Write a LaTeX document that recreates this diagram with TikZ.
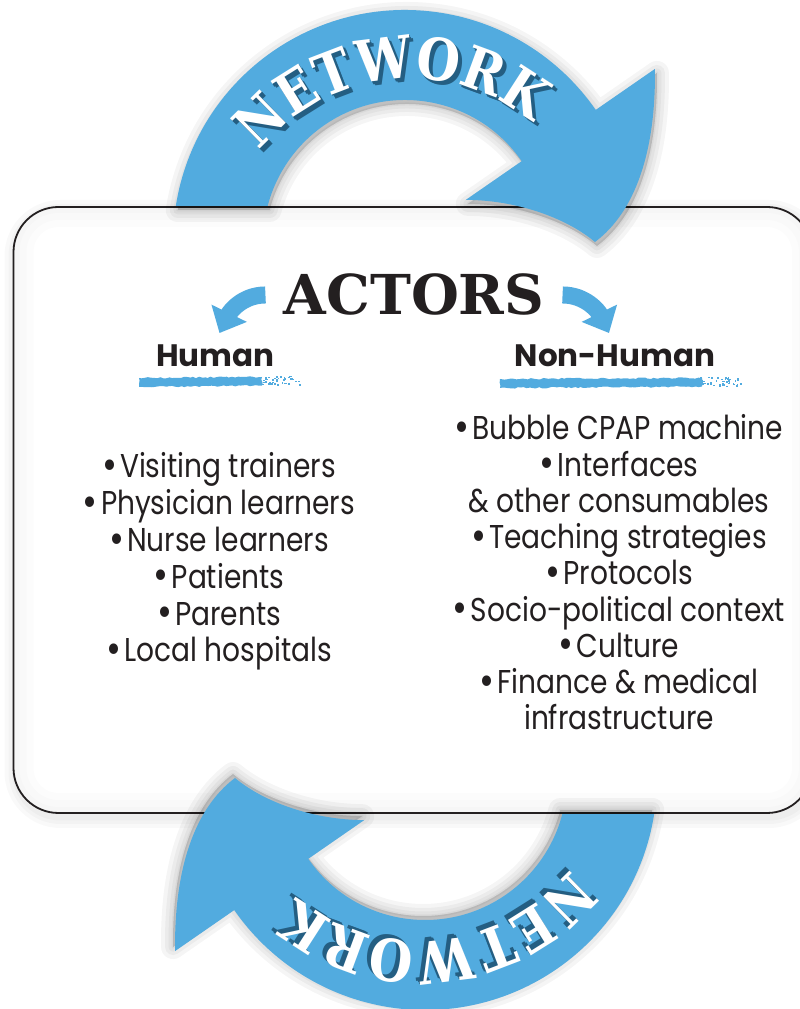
\documentclass[tikz,border=0pt]{standalone}
\usepackage{fontspec}
\usetikzlibrary{arrows.meta,decorations.text,decorations.pathmorphing}

\newfontfamily\listfont{Poppins}[FakeStretch=0.85]
\newfontfamily\headfont{Poppins}
\newfontfamily\titlefont{DejaVu Serif}
\newfontfamily\netfont{DejaVu Serif}[FakeStretch=0.86]

\definecolor{netblue}{HTML}{52ABDF}
\definecolor{netshade}{HTML}{245E82}
\definecolor{ink}{HTML}{231F20}

\newcommand\bul{\raisebox{-1.5pt}{\scalebox{1.3}{\textbullet}}\hspace{3pt}}
\newcommand\netstyle{\netfont\bfseries\fontsize{58}{60}\selectfont}

% outline of one big arrow, ring centred at the origin
\newcommand\ringpath{(171.07:232) arc[start angle=171.07, end angle=34.7, radius=232]
  -- (34.7:304) .. controls (251,90) and (230,30) .. (190,0)
  .. controls (160,25) and (110,42) .. (34.7:74)
  -- (34.7:142) arc[start angle=34.7, end angle=165.31, radius=142] -- cycle}
\newcommand\wordpath{(5,-30) ++(150:193) arc[start angle=150, end angle=42, radius=193]}

\tikzset{
  pics/netarrow/.style={code={
    % soft shadow under the arrow
    \begin{scope}[shift={(2,-4)}]
      \foreach \w in {24,16,9,3}
        \path[fill=black, fill opacity=.04, draw=black, draw opacity=.04,
              line width=\w pt, line join=round] \ringpath;
    \end{scope}
    \fill[netblue] \ringpath;
    % lettering, dark blur first
    \foreach \dx/\dy in {4/-4, 2.5/-2.5, 1/-1}
      \path[shift={(\dx,\dy)}, opacity=.3, decorate,
            decoration={text along path, text align=center,
                        text={|\netstyle\color{netshade}|NETWORK}}] \wordpath;
    \path[decorate, decoration={text along path, text align=center,
                                text={|\netstyle\color{white}|NETWORK}}] \wordpath;
  }}
}

\begin{document}
\begin{tikzpicture}[x=1pt, y=1pt,
  frame/.style={draw=ink, line width=1.8pt, rounded corners=45pt},
  title/.style={font=\titlefont\bfseries\fontsize{55}{60}\selectfont, text=ink, inner sep=0pt},
  head/.style={font=\headfont\bfseries\fontsize{31}{36}\selectfont, text=ink, inner sep=0pt},
  item/.style={font=\listfont\fontsize{33}{37}\selectfont, text=ink, inner sep=0pt, anchor=base},
  curl/.style={draw=netblue, line width=17pt, -{Triangle[length=22pt, width=38pt]}},
  brush/.style={fill=netblue, decorate, decoration={random steps, segment length=3pt, amplitude=.8pt}},
]
\useasboundingbox (0,0) rectangle (800,1009);
\clip (0,0) rectangle (800,1009);

% frame, with shadow outside and a faint glow inside
\foreach \w in {22,14,7}
  \draw[frame, draw=black, opacity=.022, line width=\w pt, shift={(2,-4)}] (13.5,196) rectangle (812,802);
\fill[white, rounded corners=45pt] (13.5,196) rectangle (812,802);
\begin{scope}
  \clip[rounded corners=45pt] (13.5,196) rectangle (812,802);
  \foreach \w in {40,26,12}
    \draw[frame, draw=black, opacity=.012, line width=\w pt] (13.5,196) rectangle (812,802);
\end{scope}
\draw[frame] (13.5,196) rectangle (812,802);

% the two NETWORK arrows
\pic at (405,767) {netarrow};
\pic[rotate=180] at (425,231) {netarrow};

% headings
\node[title, anchor=base] (actors) at (414,694) {ACTORS};
\node[head, anchor=base] (human) at (215.5,642) {Human};
\node[head, anchor=base] (nonhuman) at (615,642) {Non-Human};

\coordinate (ltail) at ([xshift=-18pt]actors.west);
\coordinate (rtail) at ([xshift=18pt]actors.east);
\coordinate (ltip) at ([xshift=4pt, yshift=12pt]human.north);
\coordinate (rtip) at ([xshift=-6pt, yshift=12pt]nonhuman.north);
\draw[curl] (ltail) to[out=180, in=64] (ltip);
\draw[curl] (rtail) to[out=0, in=116] (rtip);

% brush strokes under the headings
\pgfmathsetseed{11}
\fill[brush] (139,622) -- (262,623.5) -- (262,632) -- (139,631) -- cycle;
\foreach \k in {1,...,45}{
  \pgfmathsetmacro\sx{258+42*rnd^1.5}
  \pgfmathsetmacro\sy{623+9*rnd}
  \fill[netblue] (\sx,\sy) rectangle ++(1.8,1.4);
}
\fill[brush] (500,621) -- (702,622.5) -- (702,631) -- (500,630) -- cycle;
\foreach \k in {1,...,55}{
  \pgfmathsetmacro\sx{698+44*rnd^1.5}
  \pgfmathsetmacro\sy{622+9*rnd}
  \fill[netblue] (\sx,\sy) rectangle ++(1.8,1.4);
}

% the two lists
\foreach \t [count=\i] in {Visiting trainers, Physician learners, Nurse learners,
    Patients, Parents, Local hospitals}
  \node[item] (h\i) at (219,{531-36.8*(\i-1)}) {\bul\t};
\foreach \t [count=\i] in {\bul Bubble CPAP machine, \bul Interfaces, \& other consumables,
    \bul Teaching strategies, \bul Protocols, \bul Socio-political context, \bul Culture,
    \bul Finance \& medical, infrastructure}
  \node[item] (n\i) at (619,{569-36.25*(\i-1)}) {\t};
\end{tikzpicture}
\end{document}
